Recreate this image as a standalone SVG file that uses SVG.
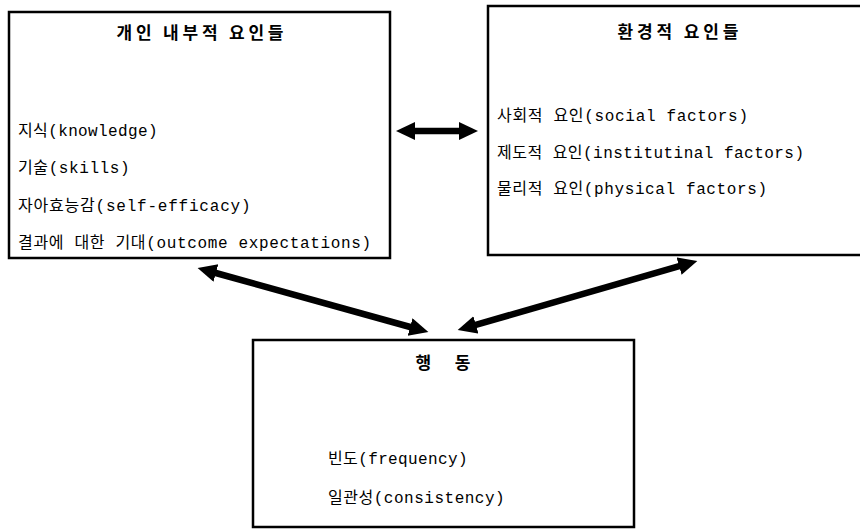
<svg xmlns="http://www.w3.org/2000/svg" width="860" height="530" viewBox="0 0 860 530">
<style>
.box{fill:#fff;stroke:#000;stroke-width:2.5}
.title{font-family:"Noto Sans CJK KR","Liberation Sans",sans-serif;font-size:17px;font-weight:bold;fill:#000;text-anchor:middle}
.item{font-family:"Liberation Mono","Noto Sans CJK KR",monospace;font-size:16px;fill:#000}
.conn{stroke:#000;stroke-width:6.5;fill:none}
</style>
<defs>
<marker id="head" markerUnits="userSpaceOnUse" markerWidth="20" markerHeight="20" viewBox="0 0 20 20" refX="2" refY="9" orient="auto-start-reverse">
<path d="M0,0 L19,9 L0,18 z" fill="#000"/>
</marker>
</defs>
<rect width="860" height="530" fill="#fff"/>
<g id="personal">
<rect class="box" x="9" y="12" width="381" height="246"/>
<text class="title" x="200" y="39" textLength="167" lengthAdjust="spacing">개인 내부적 요인들</text>
<text class="item" x="18" y="136" textLength="139.5" lengthAdjust="spacing">지식(knowledge)</text>
<text class="item" x="18" y="173" textLength="111.6" lengthAdjust="spacing">기술(skills)</text>
<text class="item" x="18" y="211" textLength="232.5" lengthAdjust="spacing">자아효능감(self-efficacy)</text>
<text class="item" x="18" y="248" textLength="353" lengthAdjust="spacing">결과에 대한 기대(outcome expectations)</text>
</g>
<g id="environment">
<rect class="box" x="488" y="6" width="380" height="249"/>
<text class="title" x="678" y="38" textLength="121" lengthAdjust="spacing">환경적 요인들</text>
<text class="item" x="497" y="121" textLength="251" lengthAdjust="spacing">사회적 요인(social factors)</text>
<text class="item" x="497" y="158" textLength="307" lengthAdjust="spacing">제도적 요인(institutinal factors)</text>
<text class="item" x="497" y="194" textLength="270" lengthAdjust="spacing">물리적 요인(physical factors)</text>
</g>
<g id="behavior">
<rect class="box" x="253" y="340" width="381" height="187"/>
<text class="title" x="443" y="369" textLength="55" lengthAdjust="spacing">행 동</text>
<text class="item" x="328" y="464" textLength="139.5" lengthAdjust="spacing">빈도(frequency)</text>
<text class="item" x="328" y="503" textLength="176.7" lengthAdjust="spacing">일관성(consistency)</text>
</g>
<g id="connectors">
<line class="conn" x1="413" y1="131" x2="461" y2="131" marker-start="url(#head)" marker-end="url(#head)"/>
<line class="conn" x1="214" y1="272.5" x2="412" y2="327.5" marker-start="url(#head)" marker-end="url(#head)"/>
<line class="conn" x1="681" y1="265.6" x2="474" y2="325.4" marker-start="url(#head)" marker-end="url(#head)"/>
</g>
</svg>
